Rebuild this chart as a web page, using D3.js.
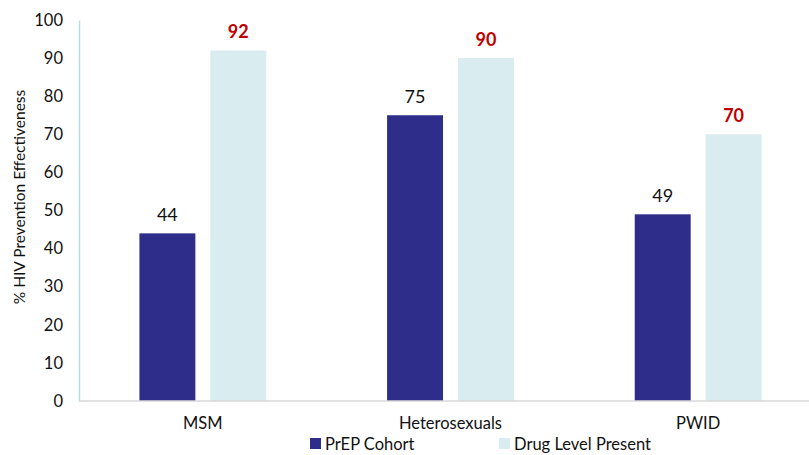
<!DOCTYPE html>
<html>
<head>
<meta charset="utf-8">
<script src="https://cdn.jsdelivr.net/npm/d3@7"></script>
<style>
  html, body { margin: 0; padding: 0; background: #fff; }
  svg text { font-family: Lato, "Open Sans", sans-serif; }
</style>
</head>
<body>
<svg id="chart" width="809" height="455"></svg>
<script>
const categories = ["MSM", "Heterosexuals", "PWID"];
const seriesNames = ["PrEP Cohort", "Drug Level Present"];
const prepCohort = [44, 75, 49];
const drugLevelPresent = [92, 90, 70];
const yTicks = [0, 10, 20, 30, 40, 50, 60, 70, 80, 90, 100];

const colors = ["#2e2e8a", "#d9ecef"];
const labelColors = ["#111111", "#c00000"];
const labelWeights = ["normal", "bold"];
const series = [prepCohort, drugLevelPresent];

const svg = d3.select("#chart");
const margin = { left: 79, right: -13, top: 20, bottom: 54 };
const W = 809, H = 455;

const x = d3.scaleBand().domain(categories)
  .range([margin.left, W - margin.right]).paddingInner(0).paddingOuter(0);
const xs = d3.scaleBand().domain(seriesNames)
  .range([0, x.bandwidth()]).paddingInner(0.211).paddingOuter(0.852);
const y = d3.scaleLinear().domain([0, 100]).range([H - margin.bottom, margin.top]);

// bars
categories.forEach((c, i) => {
  seriesNames.forEach((s, j) => {
    const v = series[j][i];
    svg.append("rect")
      .attr("x", x(c) + xs(s))
      .attr("y", y(v))
      .attr("width", xs.bandwidth())
      .attr("height", y(0) - y(v))
      .attr("fill", colors[j]);
    svg.append("text")
      .attr("x", x(c) + xs(s) + xs.bandwidth() / 2)
      .attr("y", y(v) - 12)
      .attr("text-anchor", "middle")
      .attr("font-size", 18)
      .attr("font-weight", labelWeights[j])
      .attr("fill", labelColors[j])
      .text(v);
  });
});

// baseline
svg.append("line")
  .attr("x1", margin.left).attr("x2", W)
  .attr("y1", y(0)).attr("y2", y(0))
  .attr("stroke", "#d9d9d9").attr("stroke-width", 1.5);

// y axis
const yAxis = d3.axisLeft(y).tickValues(yTicks).tickSize(0).tickPadding(16);
const gy = svg.append("g").attr("transform", `translate(${margin.left},0)`).call(yAxis);
gy.select(".domain").attr("stroke", "#b7dde3").attr("stroke-width", 1.5);
gy.selectAll("text").attr("font-size", 16.5).attr("fill", "#111")
  .style("font-family", "Lato, 'Open Sans', sans-serif");

// x axis labels
const xAxis = d3.axisBottom(x).tickSize(0).tickPadding(16);
const gx = svg.append("g").attr("transform", `translate(0,${y(0)})`).call(xAxis);
gx.select(".domain").remove();
gx.selectAll("text").attr("font-size", 16.5).attr("fill", "#111")
  .style("font-family", "Lato, 'Open Sans', sans-serif");

// y axis title
svg.append("text")
  .attr("transform", "translate(20,197) rotate(-90)")
  .attr("text-anchor", "middle")
  .attr("dy", "0.35em")
  .attr("font-size", 15.5)
  .attr("fill", "#111")
  .text("% HIV Prevention Effectiveness");

// legend
const legendX = [310, 499];
seriesNames.forEach((s, j) => {
  const g = svg.append("g").attr("transform", `translate(${legendX[j]},444)`);
  g.append("rect").attr("x", 0).attr("y", -6).attr("width", 11).attr("height", 11)
    .attr("fill", colors[j]);
  g.append("text").attr("x", 15).attr("y", 0).attr("dy", "0.35em")
    .attr("font-size", 16.5).attr("fill", "#111").text(s);
});
</script>
</body>
</html>
